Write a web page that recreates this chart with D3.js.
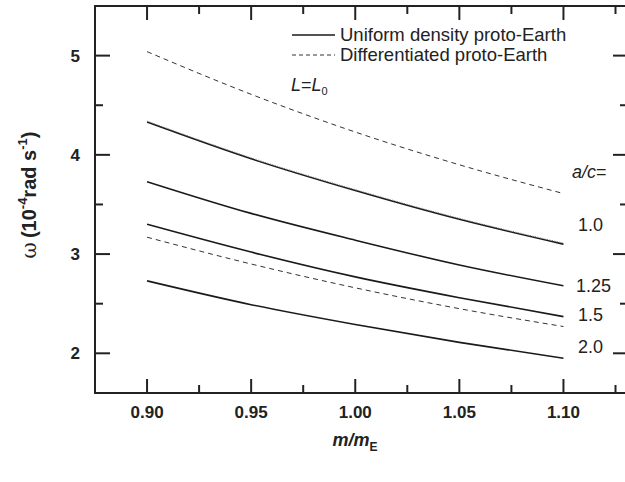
<!DOCTYPE html>
<html>
<head>
<meta charset="utf-8">
<script src="https://cdn.jsdelivr.net/npm/d3@7/dist/d3.min.js"></script>
<style>
  html, body { margin: 0; padding: 0; background: #fff; }
  svg { display: block; font-family: "Liberation Sans", Arial, sans-serif; }
</style>
</head>
<body>
<svg id="chart" width="625" height="482"></svg>
<script>
// Mass of the proto-Earth in Earth masses
const massRatio = [0.90, 0.95, 1.00, 1.05, 1.10];

// Spin rate ω (10^-4 rad/s) for each axis ratio a/c
const uniform10  = [4.33, 3.96, 3.64, 3.35, 3.10];
const uniform125 = [3.73, 3.41, 3.14, 2.89, 2.68];
const uniform15  = [3.30, 3.02, 2.77, 2.56, 2.37];
const uniform20  = [2.73, 2.49, 2.29, 2.11, 1.95];
const diffTop    = [5.04, 4.61, 4.23, 3.90, 3.61];
const diffLow    = [3.17, 2.90, 2.66, 2.45, 2.27];
const dottedL0   = [4.34, 3.97, 3.65, 3.36, 3.11];

const xMajorTicks = [0.90, 0.95, 1.00, 1.05, 1.10];
const xMinorTicks = [0.925, 0.975, 1.025, 1.075, 1.125];
const yMajorTicks = [2, 3, 4, 5];
const yMinorTicks = [2.5, 3.5, 4.5];

const ratioLabels = ["1.0", "1.25", "1.5", "2.0"];

const svg = d3.select("#chart");
const x = d3.scaleLinear().domain([0.875, 1.131]).range([95, 628]);
const y = d3.scaleLinear().domain([1.6, 5.5]).range([393, 6]);

const line = d3.line()
  .x((d, i) => x(massRatio[i]))
  .y(d => y(d))
  .curve(d3.curveMonotoneX);

// Curves
const curves = [
  { v: diffTop,    dash: "5,4",   w: 1,   c: "#333" },
  { v: uniform10,  dash: null,    w: 1.6, c: "#1a1a1a" },
  { v: dottedL0,   dash: "1,1.5", w: 1,   c: "#777" },
  { v: uniform125, dash: null,    w: 1.6, c: "#1a1a1a" },
  { v: uniform15,  dash: null,    w: 1.6, c: "#1a1a1a" },
  { v: diffLow,    dash: "5,4",   w: 1,   c: "#333" },
  { v: uniform20,  dash: null,    w: 1.6, c: "#1a1a1a" }
];
svg.append("g").selectAll("path").data(curves).join("path")
  .attr("d", d => line(d.v))
  .attr("fill", "none")
  .attr("stroke", d => d.c)
  .attr("stroke-width", d => d.w)
  .attr("stroke-dasharray", d => d.dash);

// Frame
const [x0, x1] = x.range();
const [yb, yt] = y.range();
svg.append("rect")
  .attr("x", x0).attr("y", yt)
  .attr("width", x1 - x0).attr("height", yb - yt)
  .attr("fill", "none").attr("stroke", "#222").attr("stroke-width", 2);

// Inward ticks on all four sides
const tickG = svg.append("g").attr("stroke", "#222").attr("stroke-width", 2);
function xTicks(vals, len) {
  vals.forEach(v => {
    tickG.append("line").attr("x1", x(v)).attr("x2", x(v)).attr("y1", yb).attr("y2", yb - len);
    tickG.append("line").attr("x1", x(v)).attr("x2", x(v)).attr("y1", yt).attr("y2", yt + len);
  });
}
function yTicks(vals, len) {
  vals.forEach(v => {
    tickG.append("line").attr("y1", y(v)).attr("y2", y(v)).attr("x1", x0).attr("x2", x0 + len);
    tickG.append("line").attr("y1", y(v)).attr("y2", y(v)).attr("x1", x1).attr("x2", x1 - len);
  });
}
xTicks(xMajorTicks, 14);
xTicks(xMinorTicks, 8);
yTicks(yMajorTicks, 15);
yTicks(yMinorTicks, 8);

// Tick labels
svg.append("g").selectAll("text").data(xMajorTicks).join("text")
  .attr("x", d => x(d)).attr("y", 418)
  .attr("text-anchor", "middle")
  .attr("font-size", 17).attr("font-weight", "bold").attr("fill", "#222")
  .text(d3.format(".2f"));
svg.append("g").selectAll("text").data(yMajorTicks).join("text")
  .attr("x", 80).attr("y", d => y(d) + 6)
  .attr("text-anchor", "end")
  .attr("font-size", 17).attr("font-weight", "bold").attr("fill", "#222")
  .text(d => d);

// Axis titles
const xt = svg.append("text")
  .attr("x", 355).attr("y", 446)
  .attr("text-anchor", "middle")
  .attr("font-size", 18).attr("font-weight", "bold").attr("font-style", "italic").attr("fill", "#222");
xt.append("tspan").text("m/m");
xt.append("tspan").attr("font-size", 12).attr("font-style", "normal").attr("dy", 5).text("E");

const yTitle = svg.append("text")
  .attr("transform", "translate(36,195) rotate(-90)")
  .attr("text-anchor", "middle")
  .attr("font-size", 20).attr("font-weight", "bold").attr("fill", "#222");
yTitle.append("tspan").attr("font-weight", "normal").attr("font-family", "DejaVu Serif, serif").text("ω");
yTitle.append("tspan").attr("dx", 4).text("(10");
yTitle.append("tspan").attr("font-size", 13).attr("dy", -9).text("-4");
yTitle.append("tspan").attr("dy", 9).text("rad s");
yTitle.append("tspan").attr("font-size", 13).attr("dy", -9).text("-1");
yTitle.append("tspan").attr("dy", 9).text(")");

// Legend
const leg = svg.append("g");
leg.append("line").attr("x1", 292).attr("x2", 335).attr("y1", 35).attr("y2", 35)
  .attr("stroke", "#1a1a1a").attr("stroke-width", 1.4);
leg.append("line").attr("x1", 292).attr("x2", 335).attr("y1", 55).attr("y2", 55)
  .attr("stroke", "#333").attr("stroke-width", 1).attr("stroke-dasharray", "4,3");
leg.append("text").attr("x", 340).attr("y", 41).attr("font-size", 18.5).attr("fill", "#222")
  .text("Uniform density proto-Earth");
leg.append("text").attr("x", 340).attr("y", 61).attr("font-size", 18.5).attr("fill", "#222")
  .text("Differentiated proto-Earth");
const lt = leg.append("text").attr("x", 291).attr("y", 91).attr("font-size", 18).attr("fill", "#222");
lt.append("tspan").attr("font-style", "italic").text("L");
lt.append("tspan").text("=");
lt.append("tspan").attr("font-style", "italic").text("L");
lt.append("tspan").attr("font-size", 11).attr("dy", 4).text("0");

// a/c labels at the right-hand ends of the solid curves
const ac = svg.append("text").attr("x", 572).attr("y", 178).attr("font-size", 18).attr("fill", "#222");
ac.append("tspan").attr("font-style", "italic").text("a/c");
ac.append("tspan").text("=");

const ratioEnds = [uniform10, uniform125, uniform15, uniform20].map(v => v[v.length - 1]);
const ratioShift = [-13, 6, 4, -5];
svg.append("g").selectAll("text").data(ratioLabels).join("text")
  .attr("x", (d, i) => i === 1 ? 576 : 578)
  .attr("y", (d, i) => y(ratioEnds[i]) + ratioShift[i])
  .attr("font-size", 18).attr("fill", "#222")
  .text(d => d);
</script>
</body>
</html>
